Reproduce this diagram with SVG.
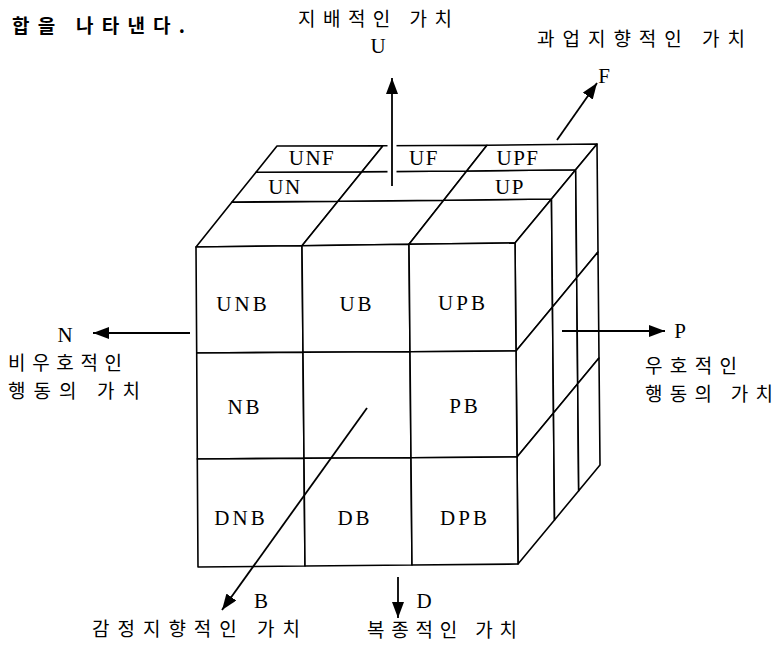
<svg xmlns="http://www.w3.org/2000/svg" width="776" height="645" viewBox="0 0 776 645">
<style>
.cell{fill:#fff;stroke:#000;stroke-width:1.6;stroke-linejoin:round}
.lat{font-family:"Liberation Serif",serif;font-size:21px;letter-spacing:3px;text-anchor:middle;fill:#000}
.top{letter-spacing:1.5px}
.ax{font-family:"Liberation Serif",serif;font-size:21px;text-anchor:middle;fill:#000}
.kr{font-family:"Noto Sans CJK KR","Noto Sans",sans-serif;font-size:19px;fill:#000}
.arr{stroke:#000;stroke-width:1.8;fill:none;marker-end:url(#ah)}
.halo{stroke:#fff;stroke-width:9;fill:none}
</style>
<defs>
<marker id="ah" markerUnits="userSpaceOnUse" markerWidth="17" markerHeight="12" refX="16" refY="6" orient="auto">
<path d="M0,0 L16,6 L0,12 z" fill="#000"/>
</marker>
</defs>
<rect width="776" height="645" fill="#fff"/>
<text x="12" y="33" class="kr" font-weight="bold" font-size="22" textLength="173" lengthAdjust="spacing">합을 나타낸다.</text>

<g id="top-face">
<g id="cell-top-f0"><polygon class="cell" points="196,247 302,245.7 338,201.2 232,202.1"/></g>
<g id="cell-top-f1"><polygon class="cell" points="302,245.7 409,244.3 443.7,200.2 338,201.2"/></g>
<g id="cell-top-f2"><polygon class="cell" points="409,244.3 515,243 551.5,199 443.7,200.2"/></g>
<g id="cell-UN"><polygon class="cell" points="232,202.1 338,201.2 361.9,171.7 256,172.3"/><text class="lat top" x="285" y="194">UN</text></g>
<g id="cell-top-m1"><polygon class="cell" points="338,201.2 443.7,200.2 466.7,171 361.9,171.7"/></g>
<g id="cell-UP"><polygon class="cell" points="443.7,200.2 551.5,199 575.7,169.7 466.7,171"/><text class="lat top" x="510" y="194">UP</text></g>
<g id="cell-UNF"><polygon class="cell" points="256,172.3 361.9,171.7 383,145.7 277,146"/><text class="lat top" x="312" y="165">UNF</text></g>
<g id="cell-UF"><polygon class="cell" points="361.9,171.7 466.7,171 487,145.3 383,145.7"/><text class="lat top" x="424" y="165">UF</text></g>
<g id="cell-UPF"><polygon class="cell" points="466.7,171 575.7,169.7 597,144 487,145.3"/><text class="lat top" x="518" y="165">UPF</text></g>
</g>

<g id="right-face">
<g id="cell-r00"><polygon class="cell" points="515,243 551.5,198.9 552.5,306.9 516,351"/></g>
<g id="cell-r10"><polygon class="cell" points="551.5,198.9 575.7,169.7 576.7,277.7 552.5,306.9"/></g>
<g id="cell-r20"><polygon class="cell" points="575.7,169.7 597,144 598,252 576.7,277.7"/></g>
<g id="cell-r01"><polygon class="cell" points="516,351 552.5,306.9 553.5,412.9 517,457"/></g>
<g id="cell-r11"><polygon class="cell" points="552.5,306.9 576.7,277.7 577.7,383.7 553.5,412.9"/></g>
<g id="cell-r21"><polygon class="cell" points="576.7,277.7 598,252 599,358 577.7,383.7"/></g>
<g id="cell-r02"><polygon class="cell" points="517,457 553.5,412.9 554.5,519.9 518,564"/></g>
<g id="cell-r12"><polygon class="cell" points="553.5,412.9 577.7,383.7 578.7,490.7 554.5,519.9"/></g>
<g id="cell-r22"><polygon class="cell" points="577.7,383.7 599,358 600,465 578.7,490.7"/></g>
</g>

<g id="front-face">
<g id="cell-UNB"><polygon class="cell" points="196,247 302,245.7 303,352.3 196.7,353"/><text class="lat" x="243" y="311">UNB</text></g>
<g id="cell-UB"><polygon class="cell" points="302,245.7 409,244.3 410,351.7 303,352.3"/><text class="lat" x="357" y="311">UB</text></g>
<g id="cell-UPB"><polygon class="cell" points="409,244.3 515,243 516,351 410,351.7"/><text class="lat" x="463" y="310">UPB</text></g>
<g id="cell-NB"><polygon class="cell" points="196.7,353 303,352.3 304,458.3 197.3,459"/><text class="lat" x="245" y="414">NB</text></g>
<g id="cell-B"><polygon class="cell" points="303,352.3 410,351.7 411,457.7 304,458.3"/></g>
<g id="cell-PB"><polygon class="cell" points="410,351.7 516,351 517,457 411,457.7"/><text class="lat" x="465" y="413">PB</text></g>
<g id="cell-DNB"><polygon class="cell" points="197.3,459 304,458.3 305,566 198,567"/><text class="lat" x="241" y="525">DNB</text></g>
<g id="cell-DB"><polygon class="cell" points="304,458.3 411,457.7 412,565 305,566"/><text class="lat" x="355" y="525">DB</text></g>
<g id="cell-DPB"><polygon class="cell" points="411,457.7 517,457 518,564 412,565"/><text class="lat" x="465" y="525">DPB</text></g>
</g>

<g id="connectors">
<line class="halo" x1="392" y1="186" x2="392" y2="132"/>
<line class="arr" x1="392" y1="186" x2="392" y2="78"/>
<line class="arr" x1="557" y1="140" x2="597" y2="83"/>
<line class="arr" x1="190" y1="333" x2="93" y2="333"/>
<line class="arr" x1="562" y1="331" x2="665" y2="331"/>
<line class="arr" x1="367" y1="408" x2="222" y2="610"/>
<line class="arr" x1="398" y1="577" x2="398" y2="618"/>
</g>

<g id="label-U"><text class="kr" x="298" y="26" textLength="154" lengthAdjust="spacing">지배적인 가치</text><text class="ax" x="378" y="53">U</text></g>
<g id="label-F"><text class="kr" x="537" y="46" textLength="208" lengthAdjust="spacing">과업지향적인 가치</text><text class="ax" x="604" y="83">F</text></g>
<g id="label-N"><text class="ax" x="65" y="342">N</text><text class="kr" x="8" y="370" textLength="114" lengthAdjust="spacing">비우호적인</text><text class="kr" x="8" y="398" textLength="132" lengthAdjust="spacing">행동의 가치</text></g>
<g id="label-P"><text class="ax" x="680" y="338">P</text><text class="kr" x="645" y="373" textLength="92" lengthAdjust="spacing">우호적인</text><text class="kr" x="645" y="401" textLength="128" lengthAdjust="spacing">행동의 가치</text></g>
<g id="label-B"><text class="ax" x="261" y="608">B</text><text class="kr" x="92" y="636" textLength="208" lengthAdjust="spacing">감정지향적인 가치</text></g>
<g id="label-D"><text class="ax" x="424" y="608">D</text><text class="kr" x="367" y="637" textLength="150" lengthAdjust="spacing">복종적인 가치</text></g>
</svg>
